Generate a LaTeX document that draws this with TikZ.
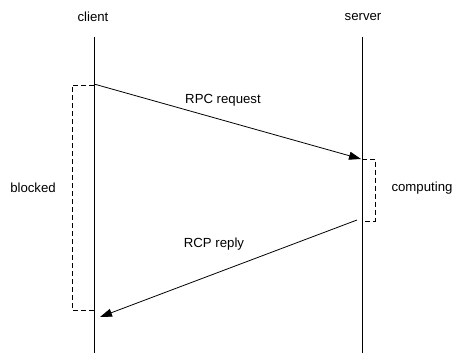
\documentclass[tikz,border=0pt]{standalone}
\usepackage{fontspec}
\setmainfont{Liberation Sans}
\usetikzlibrary{arrows.meta, positioning}

\begin{document}
\begin{tikzpicture}[x=1pt, y=-1pt,
        lifeline/.style={line width=0.9pt},
        message/.style={-{Triangle[length=12pt, width=8pt]}, line width=0.8pt},
        % phase/.style={dashed}
        phase/.style={dash pattern=on 5pt off 3pt, line width=0.8pt},
        lbl/.style={font=\fontsize{13.2}{16}\selectfont, inner sep=0pt}
    ]
        \useasboundingbox (0,0) rectangle (454,353);

        % Lifelines
        \node[lbl] (client) at (93,17) {client};
        \node[lbl] (server) at (363,17) {server};
        \coordinate (ctop) at (94,37);
        \coordinate (cbot) at (94,353);
        \coordinate (stop) at (362,37);
        \coordinate (sbot) at (362,353);
        \draw[lifeline] (ctop) -- (cbot);
        \draw[lifeline] (stop) -- (sbot);

        % Messages
        \coordinate (reqfrom) at (94,84);
        \coordinate (reqto) at (361,159);
        \coordinate (repfrom) at (357,220);
        \coordinate (repto) at (100,317);
        \draw[message] (reqfrom) -- (reqto);
        \draw[message] (repfrom) -- (repto);
        \node[lbl] (req) at (223,100) {RPC request};
        \node[lbl] (rep) at (214,244) {RCP reply};

        % Phases
        \coordinate (blkstart) at (94,85);
        \coordinate (blkend) at (94,310);
        \coordinate (cmpstart) at (362,159);
        \coordinate (cmpend) at (362,221);
        \draw[phase] (blkstart) -- ++(-22,0) |- (blkend);
        \draw[phase] (cmpstart) -- ++(13,0) |- (cmpend);
        \node[lbl] (blocked) at (33,188) {blocked};
        \node[lbl] (computing) at (422,188) {computing};
    \end{tikzpicture}
\end{document}
